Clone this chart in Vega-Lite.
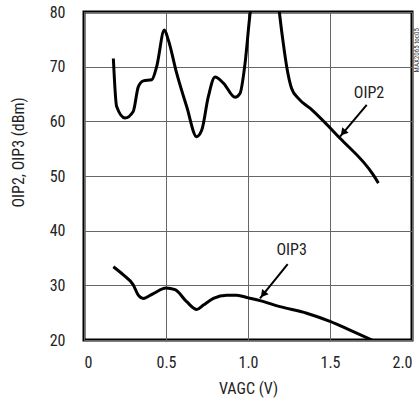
{
  "$schema": "https://vega.github.io/schema/vega-lite/v6.json",
  "width": 328,
  "height": 328,
  "autosize": "none",
  "padding": {"left": 84, "top": 12, "right": 7, "bottom": 61},
  "background": "white",
  "config": {
    "font": "Roboto Condensed, Roboto",
    "view": {"stroke": "black", "strokeWidth": 3},
    "axis": {
      "grid": true,
      "gridColor": "#666666",
      "gridWidth": 1,
      "gridOpacity": 1,
      "ticks": false,
      "domain": false,
      "labelFont": "Roboto Condensed, Roboto",
      "labelFontSize": 16,
      "labelColor": "#222222",
      "titleFont": "Roboto Condensed, Roboto",
      "titleFontSize": 16,
      "titleFontWeight": "normal",
      "titleColor": "#222222"
    }
  },
  "datasets": {
    "curves": [
      {"s": "OIP2", "v": 0.179, "p": 71.5},
      {"s": "OIP2", "v": 0.199, "p": 62.7},
      {"s": "OIP2", "v": 0.25, "p": 60.6},
      {"s": "OIP2", "v": 0.30, "p": 61.8},
      {"s": "OIP2", "v": 0.331, "p": 66.3},
      {"s": "OIP2", "v": 0.362, "p": 67.4},
      {"s": "OIP2", "v": 0.413, "p": 67.6},
      {"s": "OIP2", "v": 0.443, "p": 70.0},
      {"s": "OIP2", "v": 0.49, "p": 76.7},
      {"s": "OIP2", "v": 0.514, "p": 74.9},
      {"s": "OIP2", "v": 0.565, "p": 68.8},
      {"s": "OIP2", "v": 0.626, "p": 62.7},
      {"s": "OIP2", "v": 0.687, "p": 57.2},
      {"s": "OIP2", "v": 0.718, "p": 58.4},
      {"s": "OIP2", "v": 0.758, "p": 64.5},
      {"s": "OIP2", "v": 0.799, "p": 68.1},
      {"s": "OIP2", "v": 0.85, "p": 67.0},
      {"s": "OIP2", "v": 0.921, "p": 64.4},
      {"s": "OIP2", "v": 0.951, "p": 65.1},
      {"s": "OIP2", "v": 0.982, "p": 70.6},
      {"s": "OIP2", "v": 1.01, "p": 79.0},
      {"s": "OIP2", "v": 1.04, "p": 86.0},
      {"s": "OIP2", "v": 1.1, "p": 92.0},
      {"s": "OIP2", "v": 1.17, "p": 86.0},
      {"s": "OIP2", "v": 1.195, "p": 79.0},
      {"s": "OIP2", "v": 1.215, "p": 74.3},
      {"s": "OIP2", "v": 1.236, "p": 70.0},
      {"s": "OIP2", "v": 1.266, "p": 66.0},
      {"s": "OIP2", "v": 1.307, "p": 64.2},
      {"s": "OIP2", "v": 1.378, "p": 62.4},
      {"s": "OIP2", "v": 1.561, "p": 56.9},
      {"s": "OIP2", "v": 1.764, "p": 50.2},
      {"s": "OIP2", "v": 1.795, "p": 48.7},
      {"s": "OIP3", "v": 0.179, "p": 33.4},
      {"s": "OIP3", "v": 0.24, "p": 31.9},
      {"s": "OIP3", "v": 0.30, "p": 30.1},
      {"s": "OIP3", "v": 0.331, "p": 28.2},
      {"s": "OIP3", "v": 0.362, "p": 27.6},
      {"s": "OIP3", "v": 0.423, "p": 28.5},
      {"s": "OIP3", "v": 0.5, "p": 29.5},
      {"s": "OIP3", "v": 0.555, "p": 29.2},
      {"s": "OIP3", "v": 0.626, "p": 27.0},
      {"s": "OIP3", "v": 0.687, "p": 25.6},
      {"s": "OIP3", "v": 0.728, "p": 26.4},
      {"s": "OIP3", "v": 0.789, "p": 27.6},
      {"s": "OIP3", "v": 0.87, "p": 28.2},
      {"s": "OIP3", "v": 0.931, "p": 28.2},
      {"s": "OIP3", "v": 1.002, "p": 27.7},
      {"s": "OIP3", "v": 1.073, "p": 27.2},
      {"s": "OIP3", "v": 1.195, "p": 26.1},
      {"s": "OIP3", "v": 1.358, "p": 24.9},
      {"s": "OIP3", "v": 1.5, "p": 23.4},
      {"s": "OIP3", "v": 1.622, "p": 21.8},
      {"s": "OIP3", "v": 1.77, "p": 19.8}
    ],
    "labels": [
      {"label": "OIP2", "v": 1.738, "p": 65.2, "v0": 1.724, "p0": 63.0, "v1": 1.561, "p1": 57.2, "hv": 1.580, "hp": 57.9, "ang": 220},
      {"label": "OIP3", "v": 1.266, "p": 36.5, "v0": 1.242, "p0": 33.9, "v1": 1.073, "p1": 27.6, "hv": 1.092, "hp": 28.35, "ang": 219}
    ],
    "tag": [
      {"t": "MAX2065 toc05", "v": 2.028, "p": 73}
    ]
  },
  "layer": [
    {
      "data": {"name": "curves"},
      "mark": {"type": "line", "interpolate": "monotone", "color": "black", "strokeWidth": 3, "clip": true},
      "encoding": {
        "x": {
          "field": "v", "type": "quantitative",
          "scale": {"domain": [0, 2], "nice": false, "zero": false},
          "axis": {
            "values": [0, 0.5, 1, 1.5, 2],
            "labelExpr": "datum.value == 0 ? '0' : format(datum.value, '.1f')",
            "labelPadding": 14,
            "title": "VAGC (V)",
            "titlePadding": 10
          }
        },
        "y": {
          "field": "p", "type": "quantitative",
          "scale": {"domain": [20, 80], "nice": false, "zero": false},
          "axis": {
            "values": [20, 30, 40, 50, 60, 70, 80],
            "labelPadding": 19,
            "title": "OIP2, OIP3 (dBm)",
            "titleX": -58,
            "titleY": 140
          }
        },
        "detail": {"field": "s"}
      }
    },
    {
      "data": {"name": "labels"},
      "mark": {"type": "rule", "color": "black", "strokeWidth": 2},
      "encoding": {
        "x": {"field": "v0", "type": "quantitative"},
        "y": {"field": "p0", "type": "quantitative"},
        "x2": {"field": "v1"},
        "y2": {"field": "p1"}
      }
    },
    {
      "data": {"name": "labels"},
      "mark": {"type": "point", "shape": "triangle-up", "filled": true, "color": "black", "opacity": 1, "size": 70},
      "encoding": {
        "x": {"field": "hv", "type": "quantitative"},
        "y": {"field": "hp", "type": "quantitative"},
        "angle": {"field": "ang", "type": "quantitative", "scale": null}
      }
    },
    {
      "data": {"name": "labels"},
      "mark": {"type": "text", "fontSize": 16, "color": "#222222", "font": "Roboto Condensed, Roboto"},
      "encoding": {
        "x": {"field": "v", "type": "quantitative"},
        "y": {"field": "p", "type": "quantitative"},
        "text": {"field": "label"}
      }
    },
    {
      "data": {"name": "tag"},
      "mark": {"type": "text", "fontSize": 7, "angle": 270, "color": "#333333", "clip": false, "font": "Roboto Condensed, Roboto"},
      "encoding": {
        "x": {"field": "v", "type": "quantitative"},
        "y": {"field": "p", "type": "quantitative"},
        "text": {"field": "t"}
      }
    }
  ]
}
